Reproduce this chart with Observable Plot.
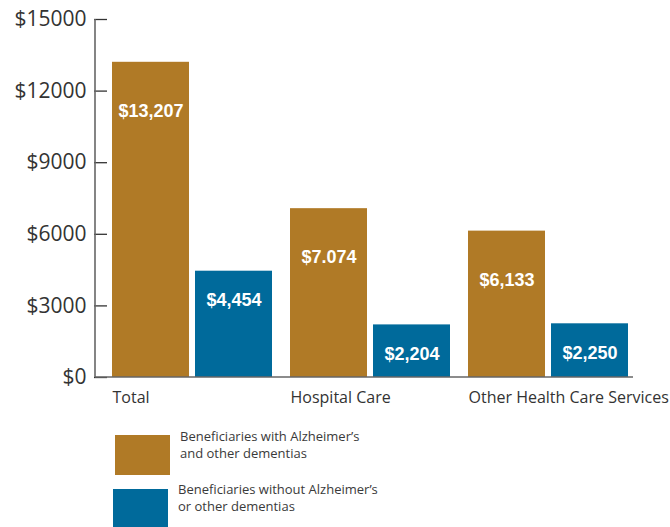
<!DOCTYPE html>
<html>
<head>
<meta charset="utf-8">
<script src="https://cdn.jsdelivr.net/npm/d3@7"></script>
<script src="https://cdn.jsdelivr.net/npm/@observablehq/plot@0.6"></script>
<style>
  html, body { margin: 0; padding: 0; background: #fff; }
  #wrap { width: 670px; font-family: "Open Sans", sans-serif; color: #3a3a3a; }
  #legend { position: relative; width: 670px; height: 107px; }
  .sw { position: absolute; width: 55px; }
  .lt { position: absolute; font-size: 13px; line-height: 16.5px; color: #3a3a3a; white-space: nowrap; }
</style>
</head>
<body>
<div id="wrap">
  <div id="chart"></div>
  <div id="legend"></div>
</div>
<script>
const categories = ["Total", "Hospital Care", "Other Health Care Services"];
const seriesNames = ["Beneficiaries with Alzheimer’s and other dementias", "Beneficiaries without Alzheimer’s or other dementias"];
const withValues = [13207, 7074, 6133];
const withoutValues = [4454, 2204, 2250];
const withLabels = ["$13,207", "$7.074", "$6,133"];
const withoutLabels = ["$4,454", "$2,204", "$2,250"];
const yTicks = [0, 3000, 6000, 9000, 12000, 15000];
const colors = ["#B07A26", "#006A9B"];

const rows = [];
categories.forEach((c, i) => {
  rows.push({category: c, series: seriesNames[0], value: withValues[i], label: withLabels[i]});
  rows.push({category: c, series: seriesNames[1], value: withoutValues[i], label: withoutLabels[i]});
});

const W = 670, H = 420, mL = 95, mR = 37, mT = 19, mB = 43;

const chart = Plot.plot({
  width: W, height: H,
  marginLeft: mL, marginRight: mR, marginTop: mT, marginBottom: mB,
  style: {fontFamily: "Open Sans, sans-serif", color: "#333", background: "#fff"},
  fx: {domain: categories, paddingInner: 0.09, paddingOuter: 0.05, align: 0.8, axis: null, label: null},
  x: {domain: seriesNames, paddingInner: 0.07, paddingOuter: 0, axis: null, label: null},
  y: {domain: [0, 15000], axis: null, label: null},
  color: {domain: seriesNames, range: colors},
  marks: [
    Plot.barY(rows, {fx: "category", x: "series", y: "value", fill: "series"}),
    Plot.text(rows.filter(d => d.series === seriesNames[0]), {
      fx: "category", x: "series", y: "value", text: "label", dy: 49,
      fill: "white", fontWeight: "bold", fontSize: 18, fontFamily: "Liberation Sans, Arial, sans-serif"
    }),
    Plot.text(rows.filter(d => d.series === seriesNames[1]), {
      fx: "category", x: "series", y: "value", text: "label", dy: 29,
      fill: "white", fontWeight: "bold", fontSize: 18, fontFamily: "Liberation Sans, Arial, sans-serif"
    }),
    Plot.axisY({ticks: yTicks, tickSize: 0, tickPadding: 8, dx: -17, fontSize: 21,
      tickFormat: d => "$" + d, fill: "#333"}),
    Plot.axisY({ticks: yTicks, tickSize: -13, dx: -17, tickFormat: () => "", stroke: "#333", strokeWidth: 1.3}),
    Plot.axisFx({anchor: "bottom", domain: categories, tickSize: 0, tickPadding: 14, textAnchor: "start", dx: -80,
      fontSize: 16, fill: "#333", label: null})
  ]
});

// axis lines along the y scale and frame
const ys = chart.scale("y");
const svg = d3.select(chart);
svg.append("line")
  .attr("x1", mL).attr("x2", mL)
  .attr("y1", ys.apply(15000)).attr("y2", ys.apply(0))
  .attr("stroke", "#666").attr("stroke-width", 1.6);
svg.append("line")
  .attr("x1", mL).attr("x2", W - mR)
  .attr("y1", ys.apply(0)).attr("y2", ys.apply(0))
  .attr("stroke", "#666").attr("stroke-width", 1.6);

document.getElementById("chart").appendChild(chart);

// legend
const legend = d3.select("#legend");
const items = [
  {swLeft: 115, swTop: 15, swH: 40, textLeft: 180, textTop: 8, lines: ["Beneficiaries with Alzheimer’s", "and other dementias"]},
  {swLeft: 113, swTop: 69, swH: 40, textLeft: 178, textTop: 61, lines: ["Beneficiaries without Alzheimer’s", "or other dementias"]}
];
items.forEach((it, i) => {
  legend.append("div").attr("class", "sw")
    .style("left", it.swLeft + "px").style("top", it.swTop + "px")
    .style("height", it.swH + "px").style("background", colors[i]);
  legend.append("div").attr("class", "lt")
    .style("left", it.textLeft + "px").style("top", it.textTop + "px")
    .html(it.lines.join("<br>"));
});
</script>
</body>
</html>
